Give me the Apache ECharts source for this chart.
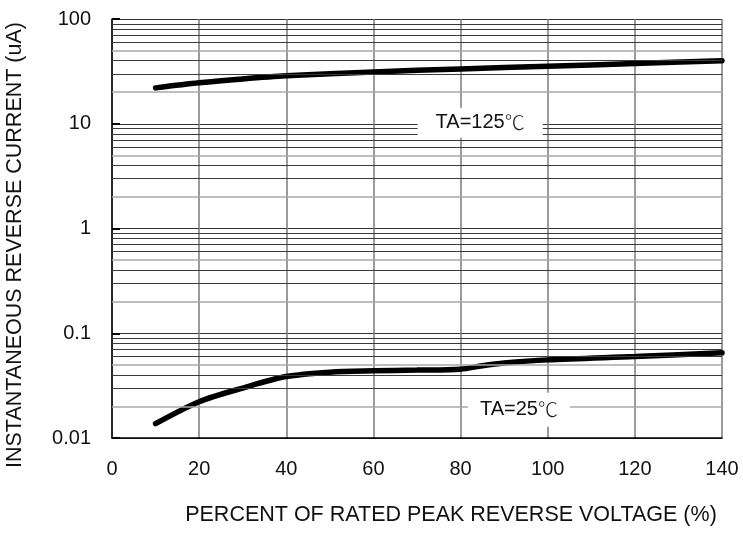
<!DOCTYPE html>
<html>
<head>
<meta charset="utf-8">
<script src="https://cdn.jsdelivr.net/npm/echarts@6/dist/echarts.min.js"></script>
<style>html,body{margin:0;padding:0;background:#fff}#c{width:743px;height:534px}</style>
</head>
<body>
<div id="c"></div>
<script>
var xTicks = [0, 20, 40, 60, 80, 100, 120, 140];
var yTickLabels = ['0.01', '0.1', '1', '10', '100'];
var ta125X = [10, 20, 30, 40, 60, 80, 100, 120, 140];
var ta125Y = [22, 24.6, 26.8, 28.7, 31.2, 33.4, 35.4, 37.5, 40];
var ta25X = [10, 20, 30, 40, 50, 60, 70, 80, 85, 90, 100, 120, 140];
var ta25Y = [0.0137, 0.0222, 0.030, 0.0386, 0.0425, 0.0438, 0.0445, 0.0454, 0.049, 0.052, 0.0557, 0.060, 0.065];
var label125 = 'TA=125';
var label25 = 'TA=25';
var unit = '℃';
var decades = [0.01, 0.1, 1, 10];
var grayMultipliers = [2, 5];
var darkMultipliers = [3, 4, 6, 7, 8, 9];

function zip(xs, ys) { return xs.map(function (x, i) { return [x, ys[i]]; }); }

var minorLines = [];
decades.forEach(function (d) {
  grayMultipliers.forEach(function (m) {
    minorLines.push({ yAxis: +(d * m).toPrecision(3), lineStyle: { color: '#a8a8a8', width: 1.6, type: 'solid' } });
  });
  darkMultipliers.forEach(function (m) {
    minorLines.push({ yAxis: +(d * m).toPrecision(3), lineStyle: { color: '#3a3a3a', width: 1, type: 'solid' } });
  });
});

var FONT = '"Liberation Sans", Arial, sans-serif';
var chart = echarts.init(document.getElementById('c'), null, { renderer: 'canvas' });

function tagLabel(txt, padH, padV) {
  return {
    show: true,
    position: 'inside',
    formatter: '{a|' + txt + '}{b|' + unit + '}',
    backgroundColor: '#fff',
    padding: [padV, padH, padV, padH],
    rich: {
      a: { fontFamily: FONT, fontSize: 20, color: '#111' },
      b: { fontFamily: '"Noto Sans CJK SC", sans-serif', fontWeight: 300, fontSize: 20, color: '#222' }
    }
  };
}

chart.setOption({
  animation: false,
  backgroundColor: '#fff',
  grid: { left: 112, right: 21, top: 19, bottom: 96 },
  xAxis: {
    type: 'value', min: 0, max: 140, interval: 20,
    axisLine: { show: true, onZero: false, lineStyle: { color: '#000', width: 1.5 } },
    axisTick: { show: false },
    axisLabel: { margin: 21, fontFamily: FONT, fontSize: 20, color: '#111',
      formatter: function (v) { return xTicks.indexOf(v) >= 0 ? String(v) : ''; } },
    splitLine: { show: true, lineStyle: { color: '#7a7a7a', width: 1.5 } }
  },
  yAxis: {
    type: 'log', logBase: 10, min: 0.01, max: 100,
    axisLine: { show: true, lineStyle: { color: '#000', width: 1.5 } },
    axisTick: { show: true, inside: true, length: 8, lineStyle: { color: '#000', width: 2 } },
    axisLabel: { margin: 21, fontFamily: FONT, fontSize: 20, color: '#111',
      formatter: function (v) { var i = Math.round(Math.log10(v)) + 2; return yTickLabels[i] || ''; } },
    splitLine: { show: true, lineStyle: { color: '#333', width: 1 } }
  },
  graphic: [
    { type: 'text', x: 15, y: 245, rotation: Math.PI / 2,
      style: { text: 'INSTANTANEOUS REVERSE CURRENT (uA)', font: '21.5px ' + FONT, fill: '#111', textAlign: 'center', textVerticalAlign: 'middle' } },
    { type: 'text', x: 451, y: 515,
      style: { text: 'PERCENT OF RATED PEAK REVERSE VOLTAGE (%)', font: '21.5px ' + FONT, fill: '#111', textAlign: 'center', textVerticalAlign: 'middle' } }
  ],
  series: [
    {
      type: 'line', name: 'grid', data: [], z: 1, silent: true,
      markLine: { silent: true, symbol: ['none', 'none'], label: { show: false }, animation: false, data: minorLines }
    },
    {
      type: 'line', name: label125, data: zip(ta125X, ta125Y), z: 3,
      smooth: 0.3, showSymbol: false,
      lineStyle: { color: '#000', width: 5.5, cap: 'round' },
      markPoint: { symbol: 'rect', symbolSize: 1, itemStyle: { color: 'rgba(0,0,0,0)' }, silent: true,
        data: [{ coord: [84.5, 10.2], label: tagLabel(label125, 18, 5) }] }
    },
    {
      type: 'line', name: label25, data: zip(ta25X, ta25Y), z: 3,
      smooth: 0.3, showSymbol: false,
      lineStyle: { color: '#000', width: 5.5, cap: 'round' },
      markPoint: { symbol: 'rect', symbolSize: 1, itemStyle: { color: 'rgba(0,0,0,0)' }, silent: true,
        data: [{ coord: [93.4, 0.0186], label: tagLabel(label25, 12, 7) }] }
    }
  ]
});
</script>
</body>
</html>
